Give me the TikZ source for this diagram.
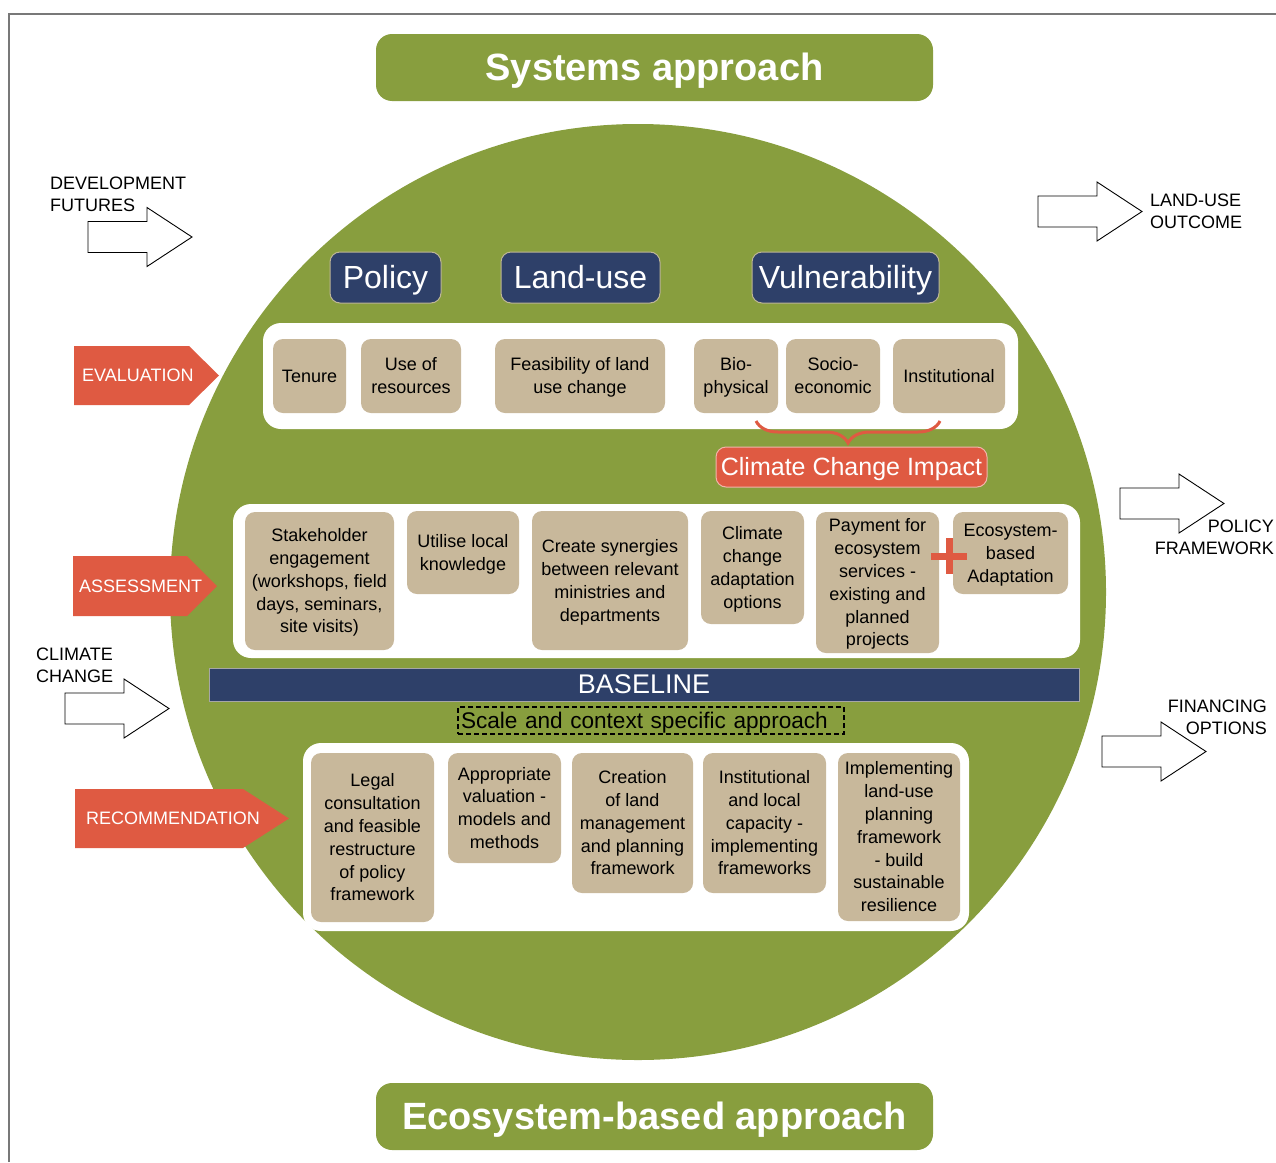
\documentclass[tikz,border=0pt]{standalone}
\usepackage{fontspec}
\setmainfont{Liberation Sans}
\usetikzlibrary{decorations.pathreplacing}
\definecolor{egreen}{RGB}{136,158,62}
\definecolor{enavy}{RGB}{46,64,105}
\definecolor{etan}{RGB}{200,184,155}
\definecolor{ered}{RGB}{223,90,66}
\definecolor{eframe}{RGB}{120,120,120}
\definecolor{navyedge}{RGB}{190,182,150}
\newcommand\fs[2]{\fontsize{#1}{#2}\selectfont}
% fixed-height struts so all text sits at the same place within its box
\newcommand\sttext[1]{\rule{0pt}{0.93em}#1\rule[-0.23em]{0pt}{0.23em}}
% style, name, x1, y1, x2, y2, text
\newcommand\bx[7]{\node[#1, minimum width=#5-#3, minimum height=#6-#4] (#2) at ({(#3+#5)/2},{(#4+#6)/2}) {\sttext{#7}};}
% outline block arrow: x1, ymid
\newcommand\oarrow[2]{\draw[outarrow] (#1,{#2-15.5}) -- ({#1+59},{#2-15.5}) -- ({#1+59},{#2-29.5}) -- ({#1+104},#2) -- ({#1+59},{#2+29.5}) -- ({#1+59},{#2+15.5}) -- (#1,{#2+15.5}) -- cycle;}
\tikzset{
  tanbox/.style={fill=etan, rounded corners=10pt, inner sep=0pt, align=center, font=\fs{18}{22.8}, text=black},
  navybox/.style={fill=enavy, draw=navyedge, line width=1pt, rounded corners=10pt, inner sep=0pt, text=white, font=\fs{32}{36}},
  panel/.style={fill=white, rounded corners=18pt, inner sep=0pt},
  titlebox/.style={fill=egreen, rounded corners=16pt, inner sep=0pt, text=white, font=\fs{38}{40}\bfseries},
  outarrow/.style={draw=black, line width=0.9pt, fill=white},
  lbl/.style={font=\fs{18}{22}, inner sep=0pt, text=black},
  redlbl/.style={font=\fs{18}{22}, inner sep=0pt, text=white, anchor=west},
}
\begin{document}
\begin{tikzpicture}[x=1pt,y=-1pt]
\useasboundingbox (0,0) rectangle (1276,1162);
% frame
\draw[eframe, line width=1.2pt] (9,1162) -- (9,14) -- (1276,14);
% big circle
\fill[egreen] (638,592) circle [radius=468pt];
% titles
\bx{titlebox}{systems}{376}{34}{933}{101}{Systems approach}
\bx{titlebox}{ecoapp}{376}{1083}{933}{1150}{Ecosystem-based approach}
% headers
\bx{navybox}{policy}{330}{252}{441}{303}{Policy}
\bx{navybox}{landuse}{501}{252}{660}{303}{Land-use}
\bx{navybox}{vuln}{752}{252}{939}{303}{Vulnerability}
% panels
\bx{panel}{evalpanel}{263}{323}{1018}{429}{}
\bx{panel}{asspanel}{233}{504}{1080}{658}{}
\bx{panel}{recpanel}{303}{743}{969}{931}{}
% evaluation boxes
\bx{tanbox}{tenure}{273}{339}{346}{413}{Tenure}
\bx{tanbox}{useres}{361}{339}{461}{413}{Use of\\resources}
\bx{tanbox}{feas}{495}{339}{665}{413}{Feasibility of land\\use change}
\bx{tanbox}{bio}{694}{339}{778}{413}{Bio-\\physical}
\bx{tanbox}{socio}{786}{339}{880}{413}{Socio-\\economic}
\bx{tanbox}{inst}{893}{339}{1005}{413}{Institutional}
% brace and climate change impact
\coordinate (braceR) at (940,421);
\coordinate (braceL) at (756,421);
\draw[ered, line width=3pt, decorate, decoration={brace, amplitude=22pt}] (braceR) -- (braceL);
\node[fill=ered, draw=ered!45!white, line width=1pt, rounded corners=10pt, inner sep=0pt,
      minimum width=271, minimum height=40, text=white, font=\fs{25}{28}] (cci) at (851.5,467) {\sttext{Climate Change Impact}};
% assessment boxes
\bx{tanbox}{stake}{245}{512}{394}{650}{Stakeholder\\engagement\\(workshops, field\\days, seminars,\\site visits)}
\bx{tanbox}{utilise}{407}{511}{519}{594}{Utilise local\\knowledge}
\bx{tanbox}{create}{532}{511}{688}{650}{Create synergies\\between relevant\\ministries and\\departments}
\bx{tanbox}{ccadapt}{701}{511}{804}{624}{Climate\\change\\adaptation\\options}
\bx{tanbox}{payment}{816}{512}{939}{653}{Payment for\\ecosystem\\services -\\existing and\\planned\\projects}
\bx{tanbox}{eba}{953}{512}{1068}{594}{Ecosystem-\\based\\Adaptation}
% plus sign
\draw[ered, line width=7pt] (931,556) -- (967,556);
\draw[ered, line width=7pt] (949,538) -- (949,574);
% baseline
\node[fill=enavy, draw=black!35, line width=1pt, inner sep=0pt, minimum width=870, minimum height=33,
      text=white, font=\fs{27}{30}] (baseline) at (644,684.5) {\sttext{BASELINE}};
\node[draw=black, dashed, line width=1.5pt, dash pattern=on 5pt off 3pt, inner xsep=3pt, inner ysep=0pt,
      minimum height=27, text width=380, align=left, font=\fs{22.6}{26}] (scale) at (651,720.5) {\sttext{Scale and context specific approach}};
% recommendation boxes
\bx{tanbox}{legal}{311}{753}{434}{922}{Legal\\consultation\\and feasible\\restructure\\of policy\\framework}
\bx{tanbox}{approp}{448}{753}{561}{863}{Appropriate\\valuation -\\models and\\methods}
\bx{tanbox}{creation}{572}{753}{693}{893}{Creation\\of land\\management\\and planning\\framework}
\bx{tanbox}{instcap}{703}{753}{826}{893}{Institutional\\and local\\capacity -\\implementing\\frameworks}
\bx{tanbox}{implem}{838}{753}{960}{921}{Implementing\\land-use\\planning\\framework\\- build\\sustainable\\resilience}
% red stage arrows
\fill[ered] (74,346) -- (189,346) -- (219,375.5) -- (189,405) -- (74,405) -- cycle;
\node[redlbl] (evallbl) at (82,375.5) {EVALUATION};
\fill[ered] (73,556) -- (187,556) -- (217,586) -- (187,616) -- (73,616) -- cycle;
\node[redlbl] (asslbl) at (79,586) {ASSESSMENT};
\fill[ered] (75,789) -- (243,789) -- (289,818.5) -- (243,848) -- (75,848) -- cycle;
\node[redlbl] (reclbl) at (86,818.5) {RECOMMENDATION};
% outline arrows
\oarrow{88}{237}
\node[lbl, align=left, anchor=west] (devlbl) at (50,194) {DEVELOPMENT\\FUTURES};
\oarrow{65}{708.5}
\node[lbl, align=left, anchor=west] (cclbl) at (36,665) {CLIMATE\\CHANGE};
\oarrow{1038}{211.5}
\node[lbl, align=left, anchor=west] (lulbl) at (1150,211) {LAND-USE\\OUTCOME};
\oarrow{1120}{503.5}
\node[lbl, align=right, anchor=east] (pflbl) at (1274,537.5) {POLICY\\FRAMEWORK};
\oarrow{1102}{751.5}
\node[lbl, align=right, anchor=east] (finlbl) at (1267,717.5) {FINANCING\\OPTIONS};
\end{tikzpicture}
\end{document}
